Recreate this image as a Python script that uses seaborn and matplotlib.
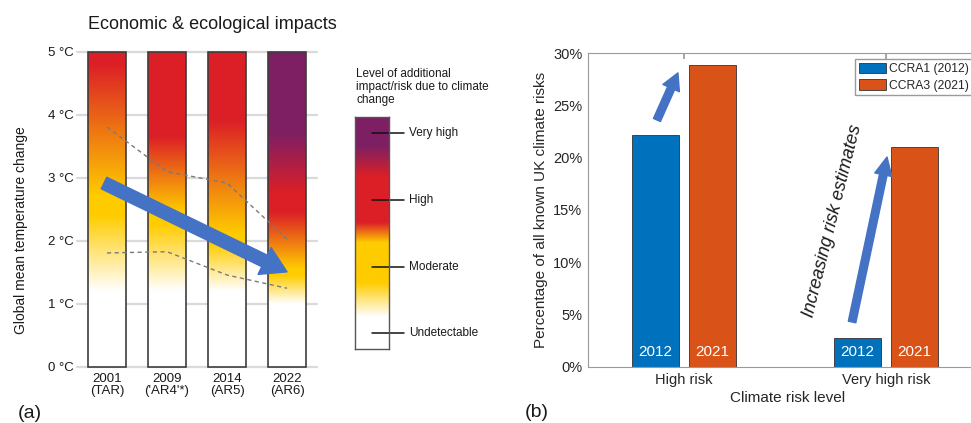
import numpy as np
import pandas as pd
import matplotlib
matplotlib.use("Agg")
import matplotlib.pyplot as plt
import seaborn as sns
from matplotlib.colors import to_rgb
from matplotlib.patches import FancyArrowPatch, ArrowStyle

# ---------------- (a) burning-ember assessments ----------------
assessments = ["2001\n(TAR)", "2009\n('AR4'*)", "2014\n(AR5)", "2022\n(AR6)"]
ember_top = [5, 5, 5, 5]
# temperatures (°C) where each colour band of an ember starts / ends
white_end = [1.2, 1.2, 1.2, 1.0]
yellow_start = [2.4, 2.25, 1.95, 1.45]
yellow_end = [2.7, 2.45, 2.1, 1.55]
red_start = [4.8, 3.65, 3.9, 2.45]
red_end = [6.0, 6.0, 6.0, 2.75]
purple_start = [7.0, 7.0, 7.0, 3.7]
upper_dashed = [3.81, 3.10, 2.92, 2.03]
lower_dashed = [1.81, 1.83, 1.46, 1.25]
temp_ticks = [0, 1, 2, 3, 4, 5]

# legend scale of the embers
scale_levels = ["Undetectable", "Moderate", "High", "Very high"]
scale_level_pos = [0.069, 0.353, 0.642, 0.931]
scale_stops = [0.138, 0.284, 0.457, 0.543, 0.741, 0.871]

# ---------------- (b) UK climate change risk assessments ----------------
risk_levels = ["High risk", "Very high risk"]
ccra1_2012 = [22.2, 2.8]
ccra3_2021 = [28.9, 21.0]
series_names = ["CCRA1 (2012)", "CCRA3 (2021)"]
series_years = ["2012", "2021"]
pct_ticks = [0, 5, 10, 15, 20, 25, 30]

WHITE, YELLOW, RED, PURPLE = "#ffffff", "#ffcc00", "#dc1f26", "#7e1f63"
ARROW = "#4472c4"
stop_colours = np.array([to_rgb(c) for c in [WHITE, YELLOW, YELLOW, RED, RED, PURPLE]])


def ember_rgb(values, stops):
    return np.stack([np.interp(values, stops, stop_colours[:, k]) for k in range(3)], axis=-1)


sns.set_theme(style="white")
plt.rcParams["font.family"] = ["Liberation Sans", "DejaVu Sans"]
TXT = "#1a1a1a"

fig = plt.figure(figsize=(9.71, 4.23), dpi=100)

# ---------- panel (a) ----------
axa = fig.add_axes([0.0793, 0.1324, 0.2472, 0.7447])
sns.barplot(x=assessments, y=ember_top, fill=False, color="#3d3d3d", width=0.633,
            linewidth=1.2, errorbar=None, ax=axa)

for i, bar in enumerate(axa.patches):
    stops = [white_end[i], yellow_start[i], yellow_end[i], red_start[i], red_end[i], purple_start[i]]
    x0, w, h = bar.get_x(), bar.get_width(), bar.get_height()
    vals = np.linspace(0, h, 600)
    img = ember_rgb(vals, stops)[:, None, :]
    im = axa.imshow(img, extent=(x0, x0 + w, 0, h), origin="lower", aspect="auto",
                    interpolation="bilinear", zorder=1)
    im.set_clip_path(bar)
    bar.set_zorder(2)
    bar.set_clip_on(False)

centers = [b.get_x() + b.get_width() / 2 for b in axa.patches]
for yvals in (upper_dashed, lower_dashed):
    sns.lineplot(x=centers, y=yvals, color="#7a7a7a", lw=1.0, linestyle=(0, (3, 2.5)),
                 zorder=3, ax=axa)

axa.add_patch(FancyArrowPatch((-0.05, 2.92), (centers[3], 1.51),
                              arrowstyle=ArrowStyle.Simple(head_length=18, head_width=21.5, tail_width=9.2),
                              mutation_scale=1, shrinkA=0, shrinkB=0, color=ARROW, zorder=4))

axa.set_xlim(-0.5, 3.5)
axa.set_ylim(0, 5)
axa.set_yticks(temp_ticks)
axa.set_yticklabels([f"{t} °C" for t in temp_ticks])
axa.grid(axis="y", color="#dadada", lw=1.6)
axa.grid(axis="x", visible=False)
axa.set_axisbelow(True)
for gl in axa.get_ygridlines():
    gl.set_clip_on(False)
sns.despine(ax=axa, left=True, bottom=True)
axa.tick_params(axis="both", length=0, labelsize=9.5, labelcolor=TXT)
axa.tick_params(axis="y", pad=2)
axa.tick_params(axis="x", pad=4.5)
for lbl in axa.get_xticklabels():
    lbl.set_linespacing(0.95)
axa.set_ylabel("Global mean temperature change", fontsize=10, color=TXT)
axa.yaxis.set_label_coords(-0.205, 0.435)
axa.set_title("Economic & ecological impacts", loc="left", x=0.046, pad=16.5,
              fontsize=13, color=TXT)

# ember colour legend
axc = fig.add_axes([0.3656, 0.1749, 0.0350, 0.5485])
f = np.linspace(0, 1, 400)
axc.imshow(ember_rgb(f, scale_stops)[:, None, :], extent=(0, 1, 0, 1), origin="lower",
           aspect="auto", interpolation="bilinear")
axc.set_xlim(0, 1)
axc.set_ylim(0, 1)
axc.set_xticks([])
axc.set_yticks([])
for s in axc.spines.values():
    s.set_color("#555555")
    s.set_linewidth(1)
for pos, lab in zip(scale_level_pos, scale_levels):
    axc.plot([0.5, 1.44], [pos, pos], color="#111111", lw=1.1, transform=axc.transAxes, clip_on=False)
    axc.text(1.58, pos, lab, transform=axc.transAxes, va="center", ha="left", fontsize=8.5, color=TXT)
fig.text(356 / 971, 1 - 68 / 423, "Level of additional\nimpact/risk due to climate\nchange",
         ha="left", va="top", fontsize=8.5, linespacing=1.12, color=TXT)

# ---------- panel (b) ----------
axb = fig.add_axes([0.6056, 0.1324, 0.4109, 0.7423])
df = pd.DataFrame({
    "level": risk_levels * 2,
    "share": ccra1_2012 + ccra3_2021,
    "assessment": [series_names[0]] * 2 + [series_names[1]] * 2,
})
sns.barplot(data=df, x="level", y="share", hue="assessment", palette=["#0072bd", "#d95319"],
            saturation=1, width=0.564, gap=0.19, edgecolor="#333333", linewidth=0.6,
            errorbar=None, ax=axb)

for cont, yr in zip(axb.containers, series_years):
    for bar in cont:
        axb.text(bar.get_x() + bar.get_width() / 2, 1.45, yr, ha="center", va="center",
                 color="white", fontsize=11)

axb.set_xlim(-0.475, 1.5)
axb.set_ylim(0, 30)
axb.set_yticks(pct_ticks)
axb.set_yticklabels([f"{v}%" for v in pct_ticks])
for s in axb.spines.values():
    s.set_visible(True)
    s.set_color("#9a9a9a")
    s.set_linewidth(0.8)
axb.tick_params(direction="in", length=4, top=True, right=True, color="#9a9a9a",
                labelsize=10.5, labelcolor="#262626", pad=4)
axb.set_xlabel("Climate risk level", fontsize=11, color="#262626")
axb.xaxis.set_label_coords(0.5, -0.076)
axb.set_ylabel("Percentage of all known UK climate risks", fontsize=11, color="#262626")
axb.yaxis.set_label_coords(-0.100, 0.5)

handles, labels = axb.get_legend_handles_labels()
axb.legend(handles, labels, loc="upper left", bbox_to_anchor=(855 / 971, 1 - 59 / 423),
           bbox_transform=fig.transFigure, frameon=True, fancybox=False, framealpha=1,
           edgecolor="#9a9a9a", fontsize=8.7, handlelength=2.3, handleheight=0.95,
           handletextpad=0.25, labelspacing=0.35, borderpad=0.3, borderaxespad=0)

axb.add_patch(FancyArrowPatch((-0.134, 23.6), (-0.03, 28.1),
                              arrowstyle=ArrowStyle.Simple(head_length=12, head_width=13, tail_width=5.5),
                              mutation_scale=1, shrinkA=0, shrinkB=0, color=ARROW, zorder=5))
axb.add_patch(FancyArrowPatch((0.832, 4.3), (1.005, 20.06),
                              arrowstyle=ArrowStyle.Simple(head_length=13, head_width=12.5, tail_width=5.5),
                              mutation_scale=1, shrinkA=0, shrinkB=0, color=ARROW, zorder=5))
axb.text(0.738, 14.0, "Increasing risk estimates", rotation=76, rotation_mode="anchor",
         ha="center", va="center", fontsize=13, style="italic", color=TXT)

fig.text(30 / 971, 1 - 413 / 423, "(a)", ha="center", va="center", fontsize=14, color=TXT)
fig.text(537 / 971, 1 - 412 / 423, "(b)", ha="center", va="center", fontsize=14, color=TXT)

fig.savefig("out.png", dpi=100)
